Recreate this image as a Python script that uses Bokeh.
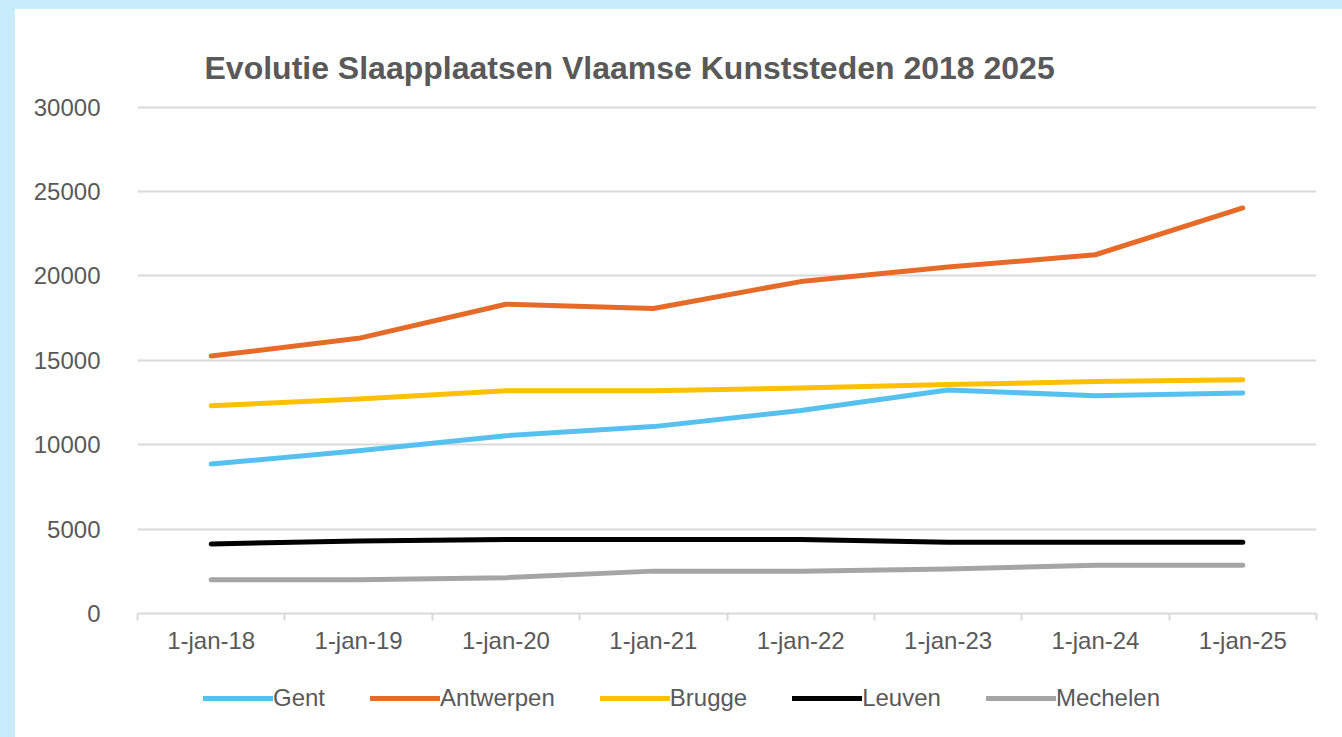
from bokeh.plotting import figure
from bokeh.layouts import column
from bokeh.models import Range1d, FixedTicker, Legend, LegendItem
from bokeh.embed import file_html
from bokeh.resources import INLINE

# ---- data ----
dates = ["1-jan-18", "1-jan-19", "1-jan-20", "1-jan-21",
         "1-jan-22", "1-jan-23", "1-jan-24", "1-jan-25"]
gent = [8850, 9640, 10530, 11070, 12020, 13240, 12900, 13060]
antwerpen = [15250, 16300, 18320, 18070, 19660, 20520, 21250, 24020]
brugge = [12300, 12710, 13200, 13200, 13360, 13560, 13740, 13840]
leuven = [4120, 4300, 4390, 4390, 4390, 4220, 4220, 4220]
mechelen = [2000, 2000, 2120, 2510, 2510, 2640, 2860, 2860]
y_ticks = [0, 5000, 10000, 15000, 20000, 25000, 30000]
series_names = ["Gent", "Antwerpen", "Brugge", "Leuven", "Mechelen"]
series_colors = ["#56C1EE", "#E66A28", "#FFC000", "#000000", "#A5A5A5"]
title_text = "Evolutie Slaapplaatsen Vlaamse Kunststeden 2018 2025"

FONT = "Liberation Sans"
TXT = "#595959"
GRID = "#d9d9d9"

xs = list(range(len(dates)))
all_series = [gent, antwerpen, brugge, leuven, mechelen]

# ---- main chart ----
p = figure(width=1327, height=661, output_backend="svg", toolbar_location=None,
           x_range=Range1d(-0.5, len(dates) - 0.5), y_range=Range1d(0, 30150),
           min_border_left=122, min_border_right=26, min_border_top=95,
           min_border_bottom=57)
p.border_fill_color = "white"
p.background_fill_color = None
p.outline_line_color = None

p.title.text = title_text
p.title.align = "left"
p.title.offset = 67
p.title.standoff = 38
p.title.text_font = FONT
p.title.text_font_size = "32px"
p.title.text_font_style = "bold"
p.title.text_color = TXT

p.yaxis.ticker = FixedTicker(ticks=y_ticks)
p.yaxis.axis_line_color = None
p.yaxis.major_tick_line_color = None
p.yaxis.minor_tick_line_color = None
p.yaxis.major_tick_out = 0
p.yaxis.major_tick_in = 0
p.yaxis.major_label_standoff = 37
p.yaxis.major_label_text_font = FONT
p.yaxis.major_label_text_font_size = "24px"
p.yaxis.major_label_text_color = TXT
p.yaxis.formatter.use_scientific = False

p.xaxis.ticker = FixedTicker(ticks=xs, minor_ticks=[i - 0.5 for i in range(len(dates) + 1)])
p.xaxis.major_label_overrides = {i: d for i, d in enumerate(dates)}
p.xaxis.axis_line_color = GRID
p.xaxis.axis_line_width = 2
p.xaxis.major_tick_line_color = None
p.xaxis.major_tick_out = 0
p.xaxis.major_tick_in = 0
p.xaxis.minor_tick_line_color = GRID
p.xaxis.minor_tick_line_width = 2
p.xaxis.minor_tick_out = 7
p.xaxis.minor_tick_in = 0
p.xaxis.major_label_standoff = 6
p.xaxis.major_label_text_font = FONT
p.xaxis.major_label_text_font_size = "24px"
p.xaxis.major_label_text_color = TXT

p.xgrid.grid_line_color = None
p.ygrid.grid_line_color = GRID
p.ygrid.grid_line_width = 2

for vals, col in zip(all_series, series_colors):
    p.line(xs, vals, line_color=col, line_width=5, line_cap="round", line_join="round")

# ---- legend strip (same series, kept out of view; only the legend shows) ----
q = figure(width=1327, height=67, output_backend="svg", toolbar_location=None,
           x_range=Range1d(-0.5, len(dates) - 0.5), y_range=Range1d(-2, -1),
           x_axis_type=None, y_axis_type=None,
           min_border_left=0, min_border_right=0, min_border_top=0, min_border_bottom=0)
q.border_fill_color = "white"
q.background_fill_color = None
q.outline_line_color = None
q.xgrid.grid_line_color = None
q.ygrid.grid_line_color = None

items = []
for name, vals, col in zip(series_names, all_series, series_colors):
    r = q.line(xs, vals, line_color=col, line_width=5, line_cap="round")
    items.append(LegendItem(label=name, renderers=[r]))

legend = Legend(items=items, orientation="horizontal", location=(66, 25),
                glyph_width=70, glyph_height=20, label_standoff=0, spacing=45,
                padding=0, margin=0, border_line_color=None, background_fill_alpha=0,
                label_text_font=FONT, label_text_font_size="24px",
                label_text_color=TXT)
q.add_layout(legend, "center")

layout = column(p, q, spacing=0, margin=(9, 0, 0, 15),
                styles={"background-color": "white"})
html = file_html(layout, INLINE)
html = html.replace("<head>", "<head><style>html,body{margin:0;padding:0;background:#c7edfc;overflow:hidden}</style>", 1)
open("out.html", "w").write(html)
